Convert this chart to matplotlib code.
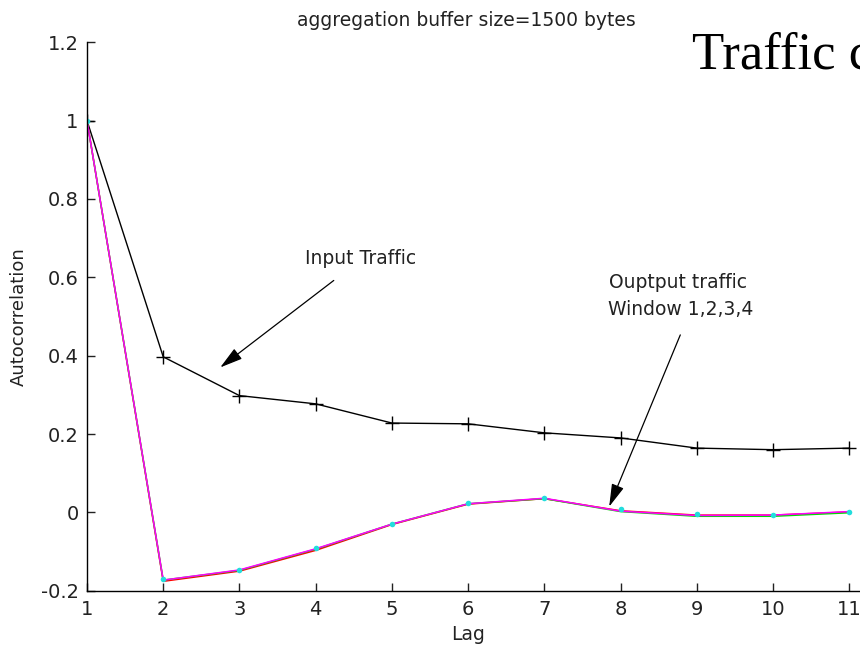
import numpy as np
import matplotlib
matplotlib.use("Agg")
import matplotlib.pyplot as plt
from matplotlib.ticker import FormatStrFormatter

# valores
lags = [1, 2, 3, 4, 5, 6, 7, 8, 9, 10, 11]
input_traffic = [1.0, 0.397, 0.298, 0.277, 0.228, 0.226, 0.203, 0.190, 0.164, 0.160, 0.164]
window1 = [1.0, -0.176, -0.150, -0.097, -0.031, 0.021, 0.035, 0.004, -0.007, -0.007, 0.001]
window2 = [1.0, -0.173, -0.148, -0.094, -0.030, 0.022, 0.035, 0.002, -0.010, -0.010, -0.001]
window3 = [1.0, -0.173, -0.147, -0.093, -0.030, 0.022, 0.036, 0.003, -0.008, -0.007, 0.002]
window4 = [1.0, -0.169, -0.147, -0.092, -0.030, 0.023, 0.036, 0.008, -0.005, -0.007, 0.002]
yticks = [-0.2, 0, 0.2, 0.4, 0.6, 0.8, 1.0, 1.2]

fig = plt.figure(figsize=(8.6, 6.51), dpi=100)
W, H = 860, 651
px_unit = 76.23
xmax = 11.2
ax = fig.add_axes([87 / W, (H - 590.7) / H, (xmax - 1) * px_unit / W, 548.4 / H])

ax.plot(lags, input_traffic, color='k', lw=1.0, marker='+', ms=10, mew=1.0)
ax.plot(lags, window1, color='red', lw=1.1)
ax.plot(lags, window2, color='#00dd00', lw=1.1)
ax.plot(lags, window3, color='magenta', lw=1.1)
ax.plot(lags, window4, color='#22dddd', ls='none', marker='o', ms=4, mew=0)

ax.set_xlim(1, xmax)
ax.set_ylim(-0.2, 1.2)
ax.set_xticks(lags)
ax.set_yticks(yticks)
ax.yaxis.set_major_formatter(FormatStrFormatter('%g'))
ax.spines['top'].set_visible(False)
ax.spines['right'].set_visible(False)
ax.spines['left'].set_linewidth(1.0)
ax.spines['bottom'].set_linewidth(1.0)
ax.tick_params(direction='in', length=6, width=1.0, labelsize=14, colors='#222222')
ax.tick_params(axis='x', pad=7)
ax.tick_params(axis='y', pad=6)

ax.set_xlabel('Lag', fontsize=13.5, color='#222222')
ax.set_ylabel('Autocorrelation', fontsize=13, color='#222222')
ax.xaxis.set_label_coords(5 / (xmax - 1), -0.062)
ax.yaxis.set_label_coords((28 - 87) / ((xmax - 1) * px_unit), 0.5)

# setas e textos
arrow = dict(arrowstyle='-|>,head_length=1.0,head_width=0.28', color='k', lw=0.9,
             mutation_scale=14, shrinkA=0, shrinkB=0)
ax.annotate('', xy=(2.748, 0.370), xytext=(4.237, 0.592), arrowprops=arrow)
ax.annotate('', xy=(7.85, 0.0146), xytext=(8.783, 0.453), arrowprops=arrow)
ax.text(3.861, 0.647, 'Input Traffic', fontsize=13.5, color='#222222', ha='left', va='center')
ax.text(7.85, 0.586, 'Ouptput traffic', fontsize=13.5, color='#222222', ha='left', va='center')
ax.text(7.84, 0.517, 'Window 1,2,3,4', fontsize=13.5, color='#222222', ha='left', va='center')

fig.text(466 / W, 1 - 26 / H, 'aggregation buffer size=1500 bytes', fontsize=13.5,
         color='#222222', ha='center', va='baseline')
# texto cortado na margem direita, como no original
fig.text(692 / W, 1 - 68.5 / H, 'Traffic c', fontsize=38, family='Liberation Serif',
         color='k', ha='left', va='baseline')

fig.savefig('out.png', dpi=100)
